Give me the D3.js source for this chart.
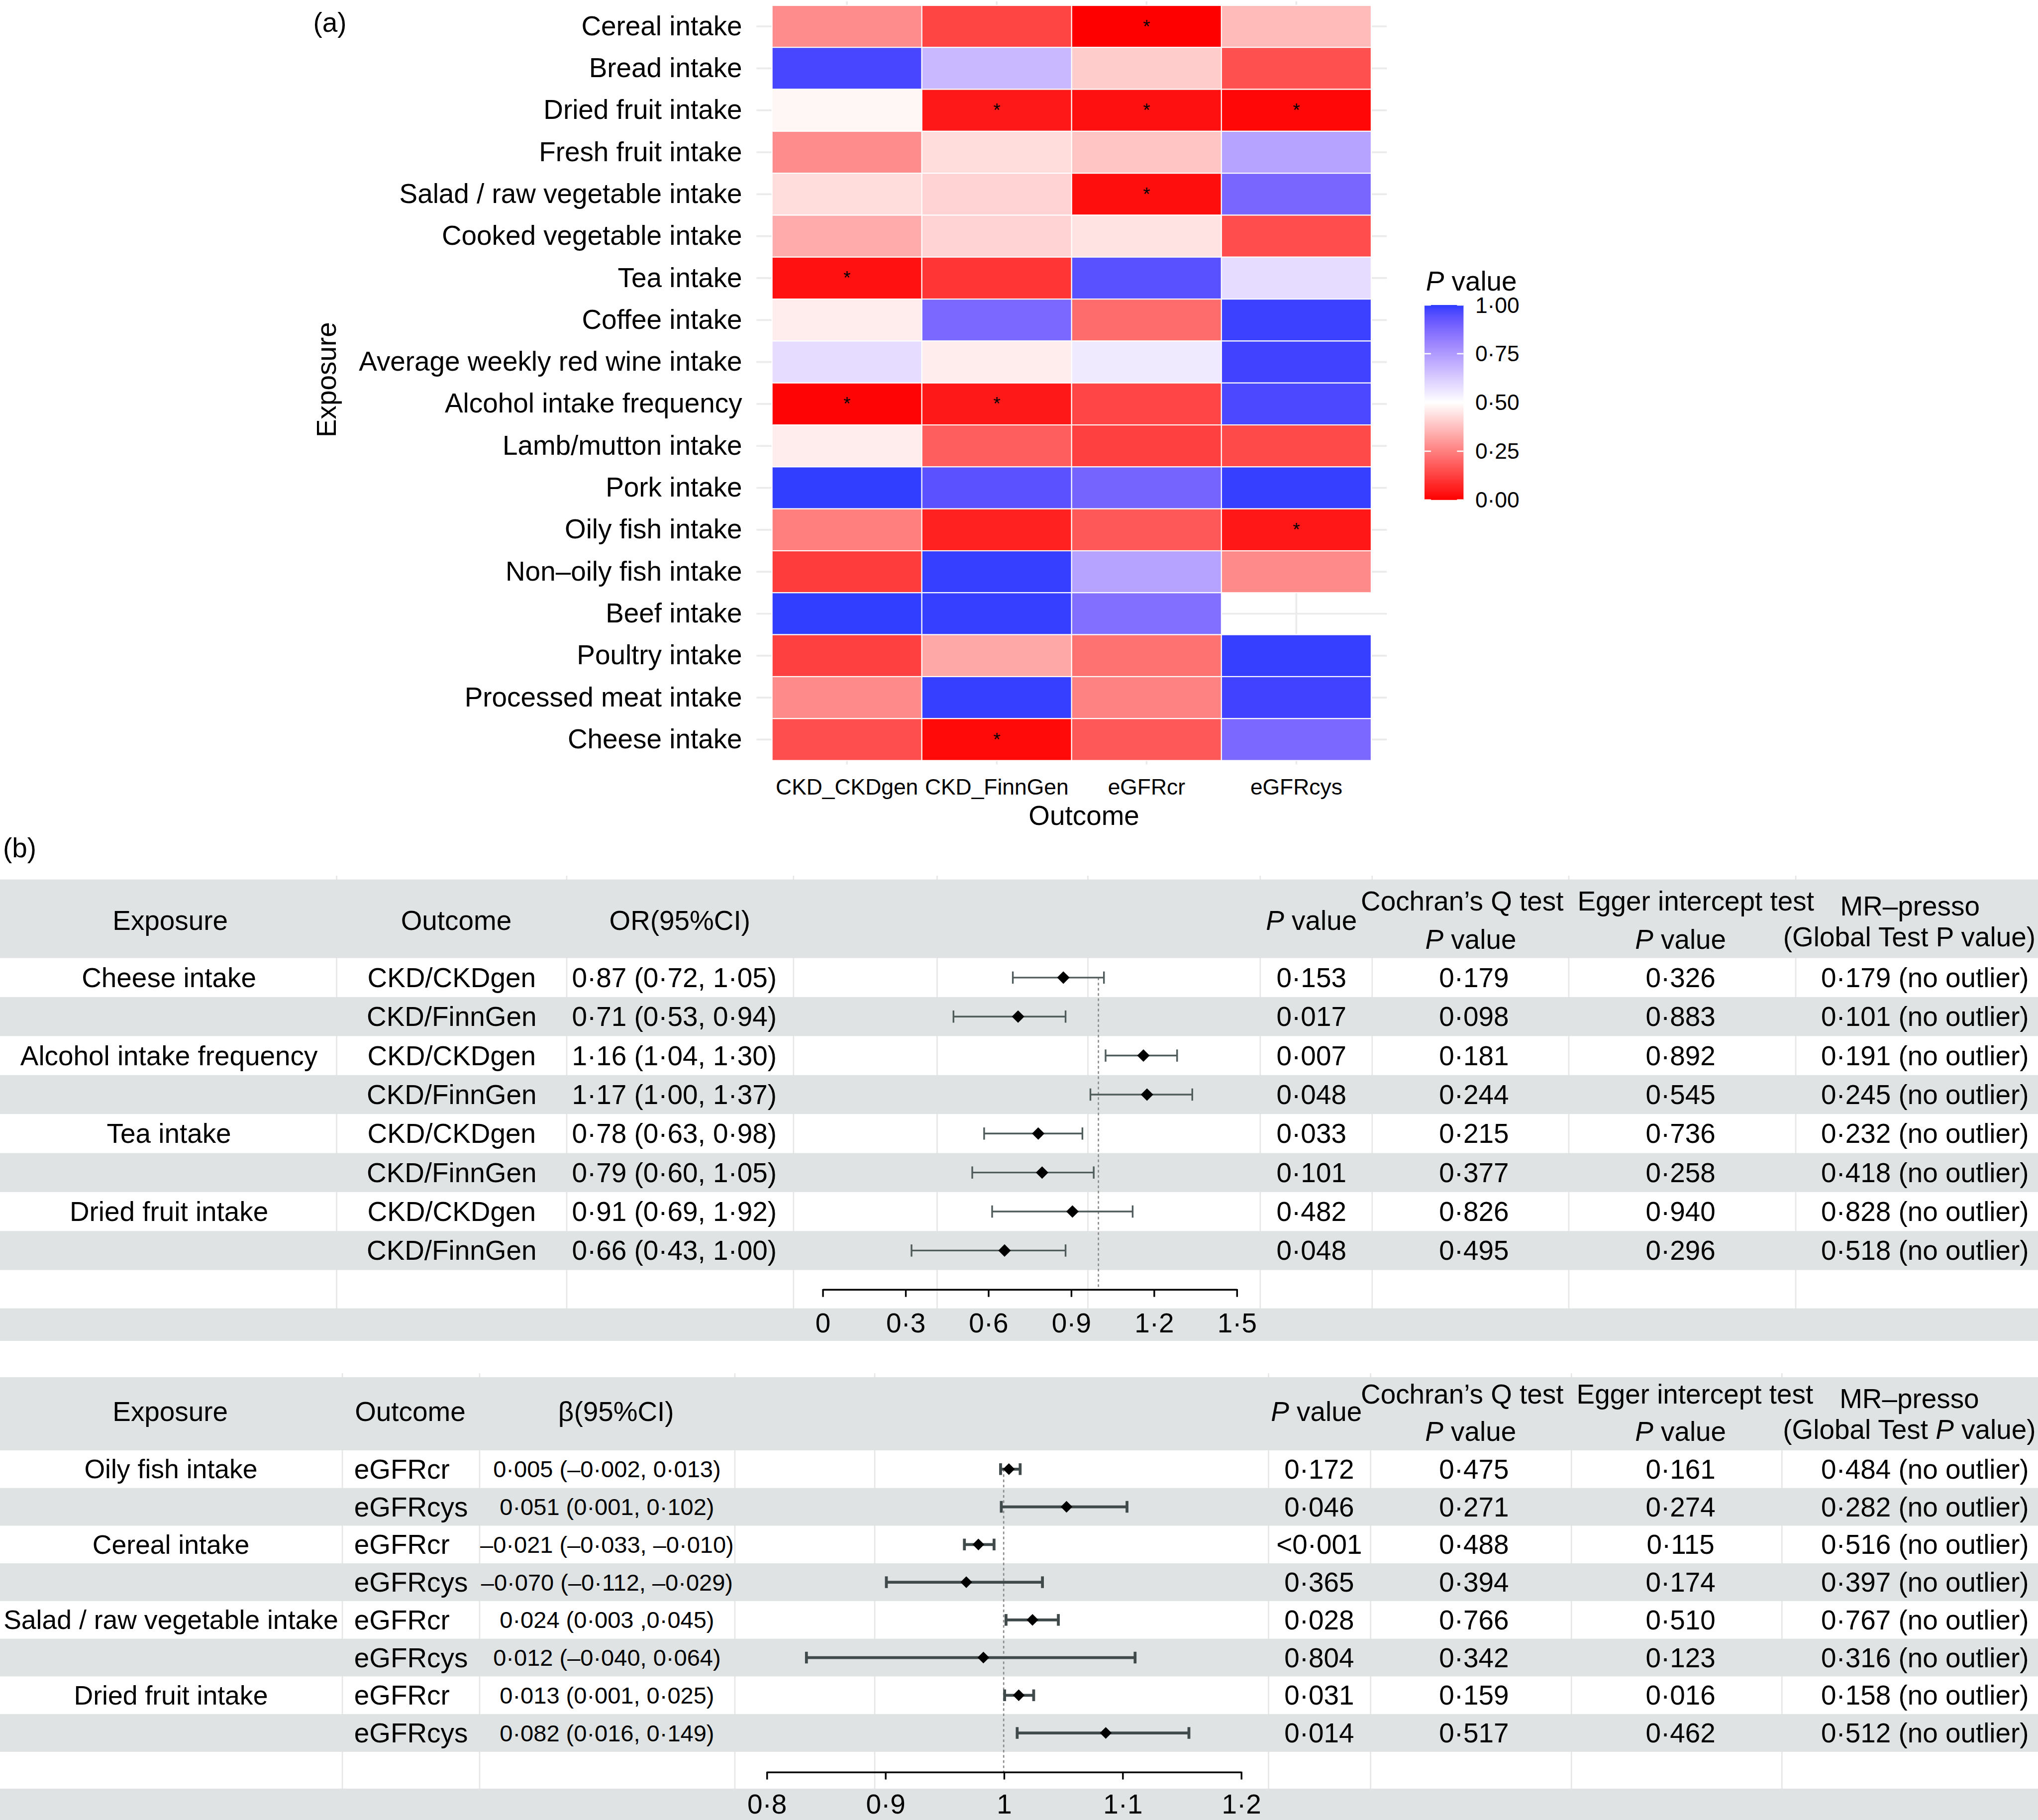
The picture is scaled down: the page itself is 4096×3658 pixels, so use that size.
<!DOCTYPE html>
<html>
<head>
<meta charset="utf-8">
<script src="https://cdn.jsdelivr.net/npm/d3@7"></script>
<style>
  body { margin: 0; background: #fff; }
  svg { display: block; }
  text { font-family: "Liberation Sans", Arial, Helvetica, sans-serif; fill: #000; }
</style>
</head>
<body>
<svg id="fig"></svg>
<script>
// ---------- panel (a): heatmap data ----------
const exposures = ["Cereal intake", "Bread intake", "Dried fruit intake", "Fresh fruit intake",
  "Salad / raw vegetable intake", "Cooked vegetable intake", "Tea intake", "Coffee intake",
  "Average weekly red wine intake", "Alcohol intake frequency", "Lamb/mutton intake", "Pork intake",
  "Oily fish intake", "Non\u2013oily fish intake", "Beef intake", "Poultry intake",
  "Processed meat intake", "Cheese intake"];
const outcomes = ["CKD_CKDgen", "CKD_FinnGen", "eGFRcr", "eGFRcys"];

// P value per exposure (same order as exposures), one array per outcome
const pCKDgen  = [0.275, 0.97, 0.482, 0.275, 0.433, 0.335, 0.033, 0.465, 0.585, 0.007, 0.465, 0.995, 0.247, 0.118, 0.995, 0.125, 0.27, 0.153];
const pFinnGen = [0.133, 0.675, 0.048, 0.433, 0.414, 0.414, 0.101, 0.88, 0.465, 0.048, 0.184, 0.94, 0.063, 0.99, 0.99, 0.33, 0.99, 0.017];
const pEGFRcr  = [0.0005, 0.40, 0.031, 0.384, 0.028, 0.445, 0.945, 0.212, 0.55, 0.135, 0.125, 0.89, 0.172, 0.73, 0.865, 0.224, 0.255, 0.173];
const pEGFRcys = [0.365, 0.157, 0.014, 0.73, 0.885, 0.149, 0.585, 0.985, 0.98, 0.965, 0.145, 0.99, 0.046, 0.27, null, 0.99, 0.98, 0.88];
const legendTicks = [0, 0.25, 0.5, 0.75, 1];

// ---------- panel (b) upper table ----------
const t1Exposure = ["Cheese intake", "", "Alcohol intake frequency", "", "Tea intake", "", "Dried fruit intake", ""];
const t1Outcome = ["CKD/CKDgen", "CKD/FinnGen", "CKD/CKDgen", "CKD/FinnGen", "CKD/CKDgen", "CKD/FinnGen", "CKD/CKDgen", "CKD/FinnGen"];
const t1OrText = ["0·87 (0·72, 1·05)", "0·71 (0·53, 0·94)", "1·16 (1·04, 1·30)", "1·17 (1·00, 1·37)",
  "0·78 (0·63, 0·98)", "0·79 (0·60, 1·05)", "0·91 (0·69, 1·92)", "0·66 (0·43, 1·00)"];
const t1Est = [0.873, 0.709, 1.163, 1.176, 0.782, 0.796, 0.906, 0.660];
const t1Lo  = [0.690, 0.475, 1.026, 0.971, 0.586, 0.543, 0.615, 0.323];
const t1Hi  = [1.020, 0.881, 1.285, 1.340, 0.942, 0.983, 1.124, 0.881];
const t1P = ["0·153", "0·017", "0·007", "0·048", "0·033", "0·101", "0·482", "0·048"];
const t1Q = ["0·179", "0·098", "0·181", "0·244", "0·215", "0·377", "0·826", "0·495"];
const t1Egger = ["0·326", "0·883", "0·892", "0·545", "0·736", "0·258", "0·940", "0·296"];
const t1Presso = ["0·179 (no outlier)", "0·101 (no outlier)", "0·191 (no outlier)", "0·245 (no outlier)",
  "0·232 (no outlier)", "0·418 (no outlier)", "0·828 (no outlier)", "0·518 (no outlier)"];
const t1Ticks = [0, 0.3, 0.6, 0.9, 1.2, 1.5];

// ---------- panel (b) lower table ----------
const t2Exposure = ["Oily fish intake", "", "Cereal intake", "", "Salad / raw vegetable intake", "", "Dried fruit intake", ""];
const t2Outcome = ["eGFRcr", "eGFRcys", "eGFRcr", "eGFRcys", "eGFRcr", "eGFRcys", "eGFRcr", "eGFRcys"];
const t2BetaText = ["0·005 (–0·002, 0·013)", "0·051 (0·001, 0·102)", "–0·021 (–0·033, –0·010)", "–0·070 (–0·112, –0·029)",
  "0·024 (0·003 ,0·045)", "0·012 (–0·040, 0·064)", "0·013 (0·001, 0·025)", "0·082 (0·016, 0·149)"];
const t2Est = [1.0044, 1.053, 0.9787, 0.9685, 1.0243, 0.9829, 1.0127, 1.0861];
const t2Lo  = [0.9974, 0.998, 0.9669, 0.9011, 1.0020, 0.8337, 1.0008, 1.0114];
const t2Hi  = [1.0139, 1.104, 0.9919, 1.0327, 1.0461, 1.1108, 1.0253, 1.1562];
const t2P = ["0·172", "0·046", "<0·001", "0·365", "0·028", "0·804", "0·031", "0·014"];
const t2Q = ["0·475", "0·271", "0·488", "0·394", "0·766", "0·342", "0·159", "0·517"];
const t2Egger = ["0·161", "0·274", "0·115", "0·174", "0·510", "0·123", "0·016", "0·462"];
const t2Presso = ["0·484 (no outlier)", "0·282 (no outlier)", "0·516 (no outlier)", "0·397 (no outlier)",
  "0·767 (no outlier)", "0·316 (no outlier)", "0·158 (no outlier)", "0·512 (no outlier)"];
const t2Ticks = [0.8, 0.9, 1, 1.1, 1.2];

const dot = v => String(+v.toFixed(2)).replace(".", "·");

// whole figure is laid out in a 1568 x 1400 frame and scaled up to the window
const svg = d3.select("#fig")
  .attr("width", 4096)
  .attr("height", 3658)
  .attr("viewBox", "0 0 1568 1400");

// text with _italic_ parts
function richText(g, str, x, y, size, anchor) {
  const t = g.append("text")
    .attr("x", x).attr("y", y)
    .attr("font-size", size)
    .attr("text-anchor", anchor || "middle")
    .attr("dominant-baseline", "central");
  str.split("_").forEach((s, i) => {
    if (s) t.append("tspan").attr("font-style", i % 2 ? "italic" : "normal").text(s);
  });
  return t;
}

// ================= (a) heatmap =================
const heat = svg.append("g");
const x = d3.scaleBand().domain(outcomes).range([594, 1055]);
const y = d3.scaleBand().domain(exposures).range([4, 585]);
const lowHalf = d3.interpolateRgb("#ff0000", "#ffffff");
const highHalf = d3.interpolateLab("#ffffff", "#2b3bff");
const color = p => p <= 0.5 ? lowHalf(p / 0.5) : highHalf((p - 0.5) / 0.5);

// panel grid
heat.selectAll(".hgrid").data(exposures).join("line")
  .attr("x1", 582).attr("x2", 1067)
  .attr("y1", d => y(d) + y.bandwidth() / 2).attr("y2", d => y(d) + y.bandwidth() / 2)
  .attr("stroke", "#ebebeb").attr("stroke-width", 1.4);
heat.selectAll(".vgrid").data(outcomes).join("line")
  .attr("x1", d => x(d) + x.bandwidth() / 2).attr("x2", d => x(d) + x.bandwidth() / 2)
  .attr("y1", 0.8).attr("y2", 588)
  .attr("stroke", "#ebebeb").attr("stroke-width", 1.4);

const pByOutcome = [pCKDgen, pFinnGen, pEGFRcr, pEGFRcys];
const cells = exposures.flatMap((e, i) => outcomes.map((o, j) => ({ e, o, p: pByOutcome[j][i] })))
  .filter(d => d.p != null);

heat.selectAll(".cell").data(cells).join("rect")
  .attr("x", d => x(d.o)).attr("y", d => y(d.e))
  .attr("width", x.bandwidth()).attr("height", y.bandwidth())
  .attr("fill", d => color(d.p))
  .attr("stroke", "#fff").attr("stroke-width", 0.8);

heat.selectAll(".star").data(cells.filter(d => d.p < 0.05)).join("text")
  .attr("x", d => x(d.o) + x.bandwidth() / 2)
  .attr("y", d => y(d.e) + y.bandwidth() / 2)
  .attr("text-anchor", "middle").attr("dominant-baseline", "central")
  .attr("font-size", 14)
  .text("*");

const yAxis = heat.append("g").attr("transform", "translate(594,0)")
  .call(d3.axisLeft(y).tickSize(0).tickPadding(23));
yAxis.select(".domain").remove();
yAxis.attr("font-size", 21);

const xAxis = heat.append("g").attr("transform", "translate(0,585)")
  .call(d3.axisBottom(x).tickSize(0).tickPadding(14));
xAxis.select(".domain").remove();
xAxis.attr("font-size", 17);

heat.append("text").attr("transform", "translate(251,292) rotate(-90)")
  .attr("text-anchor", "middle").attr("dominant-baseline", "central")
  .attr("font-size", 21).text("Exposure");
heat.append("text").attr("x", 834).attr("y", 627.4)
  .attr("text-anchor", "middle").attr("dominant-baseline", "central")
  .attr("font-size", 21).text("Outcome");
richText(heat, "(a)", 241, 17, 21, "start");

// legend
const defs = svg.append("defs");
const grad = defs.append("linearGradient").attr("id", "pgrad")
  .attr("x1", 0).attr("y1", 1).attr("x2", 0).attr("y2", 0);
grad.selectAll("stop").data(d3.range(0, 1.0001, 0.025)).join("stop")
  .attr("offset", d => d).attr("stop-color", d => color(d));

const legY = d3.scaleLinear().domain([0, 1]).range([384.5, 234.5]);
const leg = svg.append("g");
richText(leg, "_P_ value", 1097, 216, 21, "start");
leg.append("rect").attr("x", 1096).attr("y", legY(1)).attr("width", 30)
  .attr("height", legY(0) - legY(1)).attr("fill", "url(#pgrad)");
leg.selectAll(".lt").data(legendTicks.flatMap(v => [[v, 1096], [v, 1121]])).join("line")
  .attr("x1", d => d[1]).attr("x2", d => d[1] + 5)
  .attr("y1", d => legY(d[0])).attr("y2", d => legY(d[0]))
  .attr("stroke", "#fff").attr("stroke-width", 1);
const legAxis = leg.append("g").attr("transform", "translate(1126,0)")
  .call(d3.axisRight(legY).tickValues(legendTicks).tickSize(0).tickPadding(9)
    .tickFormat(v => d3.format(".2f")(v).replace(".", "·")));
legAxis.select(".domain").remove();
legAxis.attr("font-size", 17);

// ================= (b) forest tables =================
richText(svg, "(b)", 2.3, 652, 21, "start");

function drawTable(t) {
  const g = svg.append("g");
  const bodyTop = t.top + t.headerH;
  const axisTop = bodyTop + t.rowH * t.n;
  const botTop = axisTop + t.axisH;
  const rows = d3.scaleBand().domain(d3.range(t.n)).range([bodyTop, axisTop]);
  const rowY = i => rows(i) + rows.bandwidth() / 2;

  g.selectAll(".cline").data(t.colLines).join("line")
    .attr("x1", d => d).attr("x2", d => d)
    .attr("y1", t.top - 3).attr("y2", botTop)
    .attr("stroke", "#e6e6e6").attr("stroke-width", 1);

  const bands = [{ y: t.top, h: t.headerH }];
  for (let i = 1; i < t.n; i += 2) bands.push({ y: rows(i), h: rows.bandwidth() });
  bands.push({ y: botTop, h: t.botH });
  g.selectAll(".band").data(bands).join("rect")
    .attr("x", 0).attr("width", 1568)
    .attr("y", d => d.y).attr("height", d => d.h)
    .attr("fill", "#dfe3e3");

  t.headers.forEach(h => richText(g, h.s, h.x, h.y, 21, "middle"));

  t.cols.forEach(c => {
    g.selectAll(null).data(c.vals).join("text")
      .attr("x", c.x).attr("y", (d, i) => rowY(i))
      .attr("text-anchor", c.anchor).attr("dominant-baseline", "central")
      .attr("font-size", c.size || 21)
      .text(d => d);
  });

  const xs = t.scale;
  g.append("line").attr("x1", xs(1)).attr("x2", xs(1))
    .attr("y1", rowY(0)).attr("y2", t.axisY)
    .attr("stroke", "#8a8a8a").attr("stroke-width", 1).attr("stroke-dasharray", "2,2");

  const ci = t.est.map((e, i) => ({ e, lo: t.lo[i], hi: t.hi[i], y: rowY(i) }));
  g.selectAll(".ci").data(ci).join("line")
    .attr("x1", d => xs(d.lo)).attr("x2", d => xs(d.hi))
    .attr("y1", d => d.y).attr("y2", d => d.y)
    .attr("stroke", t.ciColor).attr("stroke-width", t.ciWidth);
  g.selectAll(".cap").data(ci.flatMap(d => [[d.lo, d.y], [d.hi, d.y]])).join("line")
    .attr("x1", d => xs(d[0])).attr("x2", d => xs(d[0]))
    .attr("y1", d => d[1] - t.cap).attr("y2", d => d[1] + t.cap)
    .attr("stroke", t.ciColor).attr("stroke-width", t.ciWidth);
  g.selectAll(".pt").data(ci).join("path")
    .attr("d", d => {
      const cx = xs(d.e), cy = d.y, r = t.dia;
      return `M${cx - r},${cy}L${cx},${cy - r}L${cx + r},${cy}L${cx},${cy + r}Z`;
    })
    .attr("fill", "#000");

  const ax = g.append("g").attr("transform", `translate(0,${t.axisY})`)
    .call(d3.axisBottom(xs).tickValues(t.ticks).tickSize(6).tickSizeOuter(0)
      .tickPadding(t.pad).tickFormat(dot));
  ax.attr("font-size", 21);
  ax.select(".domain").attr("stroke", "#000").attr("stroke-width", 1.3);
  ax.selectAll(".tick line").attr("stroke", "#000").attr("stroke-width", 1.3);
}

drawTable({
  top: 676.5, headerH: 60.5, rowH: 30, n: 8, axisH: 29.5, botH: 25,
  colLines: [259, 436, 610.5, 721, 837, 969.6, 1055.7, 1207, 1381.6],
  headers: [
    { s: "Exposure", x: 131, y: 708 }, { s: "Outcome", x: 351, y: 708 }, { s: "OR(95%CI)", x: 523, y: 708 },
    { s: "_P_ value", x: 1009, y: 708 },
    { s: "Cochran’s Q test", x: 1125, y: 693.3 }, { s: "_P_ value", x: 1131.6, y: 722.5 },
    { s: "Egger intercept test", x: 1304.7, y: 693.3 }, { s: "_P_ value", x: 1293, y: 722.5 },
    { s: "MR–presso", x: 1469.5, y: 697 }, { s: "(Global Test P value)", x: 1469, y: 720.8 }
  ],
  cols: [
    { vals: t1Exposure, x: 130, anchor: "middle" },
    { vals: t1Outcome, x: 347.5, anchor: "middle" },
    { vals: t1OrText, x: 440, anchor: "start" },
    { vals: t1P, x: 1009, anchor: "middle" },
    { vals: t1Q, x: 1134, anchor: "middle" },
    { vals: t1Egger, x: 1293, anchor: "middle" },
    { vals: t1Presso, x: 1481, anchor: "middle" }
  ],
  scale: d3.scaleLinear().domain([0, 1.5]).range([632.7, 951.3]),
  est: t1Est, lo: t1Lo, hi: t1Hi, ticks: t1Ticks,
  axisY: 991.7, pad: 12.4,
  ciColor: "#505b5b", ciWidth: 1.3, cap: 4.7, dia: 4.8
});

drawTable({
  top: 1059.5, headerH: 56.2, rowH: 29, n: 8, axisH: 28.3, botH: 24.5,
  colLines: [263.4, 369, 565.4, 673, 976, 1054.5, 1209, 1371],
  headers: [
    { s: "Exposure", x: 131, y: 1086 }, { s: "Outcome", x: 315.6, y: 1086 }, { s: "β(95%CI)", x: 474, y: 1086 },
    { s: "_P_ value", x: 1012.8, y: 1086 },
    { s: "Cochran’s Q test", x: 1125, y: 1072.6 }, { s: "_P_ value", x: 1131.5, y: 1101.3 },
    { s: "Egger intercept test", x: 1304, y: 1072.6 }, { s: "_P_ value", x: 1293, y: 1101.3 },
    { s: "MR–presso", x: 1469, y: 1076 }, { s: "(Global Test _P_ value)", x: 1469, y: 1099.7 }
  ],
  cols: [
    { vals: t2Exposure, x: 131.5, anchor: "middle", size: 20.5 },
    { vals: t2Outcome, x: 272.5, anchor: "start" },
    { vals: t2BetaText, x: 467, anchor: "middle", size: 18 },
    { vals: t2P, x: 1015, anchor: "middle" },
    { vals: t2Q, x: 1134, anchor: "middle" },
    { vals: t2Egger, x: 1293, anchor: "middle" },
    { vals: t2Presso, x: 1481, anchor: "middle" }
  ],
  scale: d3.scaleLinear().domain([0.8, 1.2]).range([589.7, 954.7]),
  est: t2Est, lo: t2Lo, hi: t2Hi, ticks: t2Ticks,
  axisY: 1363, pad: 11.4,
  ciColor: "#404a4a", ciWidth: 2.2, cap: 4.5, dia: 4.5
});
</script>
</body>
</html>
